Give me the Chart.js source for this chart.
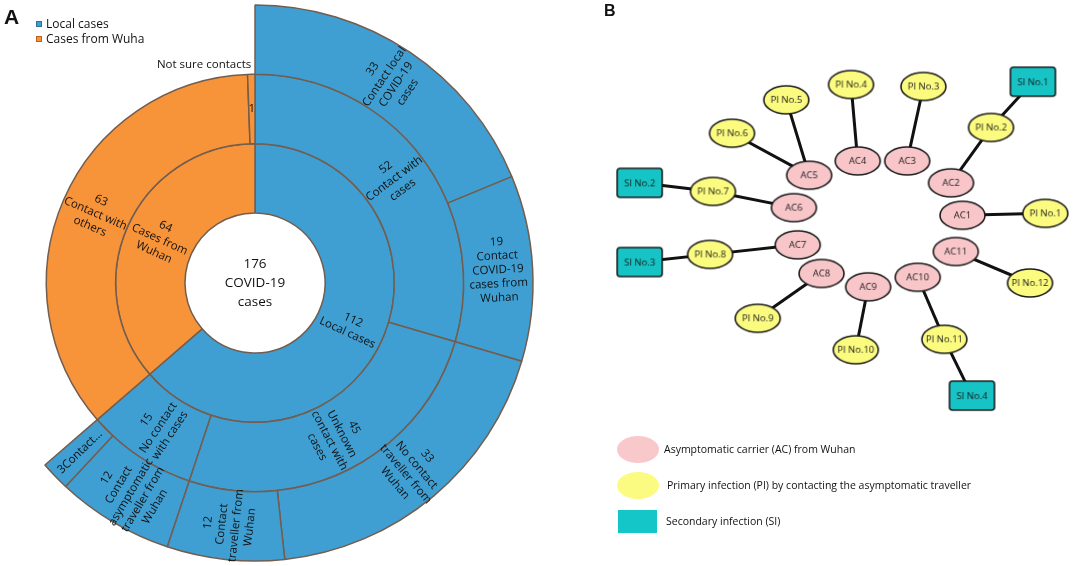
<!DOCTYPE html>
<html>
<head>
<meta charset="utf-8">
<title>COVID-19 cases sunburst and transmission network</title>
<script src="https://cdn.jsdelivr.net/npm/chart.js@4.4.1/dist/chart.umd.min.js"></script>
<style>
    body { margin: 0; width: 1084px; height: 566px; background: #fff; position: relative; overflow: hidden; font-family: "Open Sans", sans-serif; color: #111; }
    canvas { position: absolute; top: 0; }
    #sunburst { left: 0; }
    #network { left: 540px; }
    .tag { position: absolute; font-family: "Liberation Sans", Arial, sans-serif; font-weight: bold; line-height: 1; }
    .leg { position: absolute; font-size: 10.5px; line-height: 14px; transform: translateY(-50%); white-space: nowrap; }
    .leg-a { font-size: 12px; }
    .sq { position: absolute; width: 6px; height: 6px; box-sizing: border-box; }
    .sym { position: absolute; }
</style>
</head>
<body>
<canvas id="sunburst" width="540" height="566"></canvas>
<canvas id="network" width="544" height="566"></canvas>

<div class="tag" style="left:4px; top:6px; font-size:21px;">A</div>
<div class="tag" style="left:604px; top:3px; font-size:16px;">B</div>

<div class="sq" style="left:36px; top:21px; background:#3f9fd2; border:1px solid #2f6f9a;"></div>
<div class="leg leg-a" style="left:46px; top:24px;">Local cases</div>
<div class="sq" style="left:36px; top:36px; background:#f7943a; border:1px solid #b9631c;"></div>
<div class="leg leg-a" style="left:46px; top:39px;">Cases from Wuha</div>

<div class="sym" style="left:617px; top:436px; width:42px; height:27px; border-radius:50%; background:#f9c8cb;"></div>
<div class="leg" style="left:664px; top:449px;">Asymptomatic carrier (AC) from Wuhan</div>
<div class="sym" style="left:617px; top:472px; width:42px; height:27px; border-radius:50%; background:#fbfb82;"></div>
<div class="leg" style="left:667px; top:485px;">Primary infection (PI) by contacting the asymptomatic traveller</div>
<div class="sym" style="left:618px; top:510px; width:39px; height:23px; background:#14c6c8;"></div>
<div class="leg" style="left:666px; top:521px;">Secondary infection (SI)</div>

<script>
// ---- panel A: sunburst rings (inner -> outer) ----
const BLUE = "#3f9fd2";
const ORANGE = "#f7943a";
const EDGE = "#735d4f";

const innerValues = [112, 64];
const innerLabels = ["112\nLocal cases", "64\nCases from\nWuhan"];
const innerColors = [BLUE, ORANGE];

const middleValues = [52, 45, 15, 63, 1];
const middleLabels = ["52\nContact with\ncases", "45\nUnknown\ncontact with\ncases", "15\nNo contact\nwith cases", "63\nContact with\nothers", "1"];
const middleOutside = ["", "", "", "", "Not sure contacts"];
const middleColors = [BLUE, BLUE, BLUE, ORANGE, ORANGE];

// last slot is the Wuhan part, which has no third level
const outerValues = [33, 19, 33, 12, 12, 3, 64];
const outerLabels = [
    "33\nContact local\nCOVID-19\ncases",
    "19\nContact\nCOVID-19\ncases from\nWuhan",
    "33\nNo contact\ntraveller from\nWuhan",
    "12\nContact\ntraveller from\nWuhan",
    "12\nContact\nasymptomatic\ntraveller from\nWuhan",
    "3Contact\u2026",
    "",
];
const outerColors = [BLUE, BLUE, BLUE, BLUE, BLUE, BLUE, "rgba(0,0,0,0)"];
const outerBorders = [1.5, 1.5, 1.5, 1.5, 1.5, 1.5, 0];

const centerLines = ["176", "COVID-19", "cases"];

// ---- panel B: transmission network ----
const acNames = ["AC1", "AC2", "AC3", "AC4", "AC5", "AC6", "AC7", "AC8", "AC9", "AC10", "AC11"];
const acX = [970, 958, 912, 860, 809, 793, 797, 822, 871, 923, 963];
const acY = [212, 178, 155, 155, 170, 204, 243, 273, 287, 277, 250];

const piNames = ["PI No.1", "PI No.2", "PI No.3", "PI No.4", "PI No.5", "PI No.6", "PI No.7", "PI No.8", "PI No.9", "PI No.10", "PI No.11", "PI No.12"];
const piX = [1057, 1000, 929, 853, 785, 728, 708, 705, 755, 858, 951, 1041];
const piY = [210, 120, 77, 75, 91, 126, 187, 253, 320, 353, 342, 283];
const piSource = ["AC1", "AC2", "AC3", "AC4", "AC5", "AC5", "AC6", "AC7", "AC8", "AC9", "AC10", "AC11"];

const siNames = ["SI No.1", "SI No.2", "SI No.3", "SI No.4"];
const siX = [1044, 631, 631, 980];
const siY = [72, 178, 261, 401];
const siSource = ["PI No.2", "PI No.7", "PI No.8", "PI No.11"];

const NODE_FILL = { ac: "#f8c6c9", pi: "#fbfb80", si: "#16c4c6" };

// draws the rotated labels on each arc
const ringLabels = {
    id: "ringLabels",
    afterDatasetsDraw(chart) {
        const ctx = chart.ctx;
        ctx.save();
        ctx.fillStyle = "#111";
        ctx.textAlign = "center";
        ctx.textBaseline = "middle";
        chart.data.datasets.forEach((ds, di) => {
            chart.getDatasetMeta(di).data.forEach((arc, i) => {
                const p = arc.getProps(["x", "y", "startAngle", "endAngle", "innerRadius", "outerRadius"], true);
                const mid = (p.startAngle + p.endAngle) / 2;
                const text = ds.labelText[i];
                if (text) {
                    const r = (p.innerRadius + p.outerRadius) / 2;
                    let rot = Math.atan2(Math.sin(mid), Math.cos(mid));
                    if (rot > Math.PI / 2) rot -= Math.PI;
                    if (rot < -Math.PI / 2) rot += Math.PI;
                    if (p.endAngle - p.startAngle < 0.1) rot = 0;
                    const lines = text.split("\n");
                    const lh = 14;
                    ctx.save();
                    ctx.font = '11.5px "Open Sans"';
                    ctx.translate(p.x + Math.cos(mid) * r, p.y + Math.sin(mid) * r);
                    ctx.rotate(rot);
                    lines.forEach((line, li) => {
                        ctx.fillText(line, 0, (li - (lines.length - 1) / 2) * lh);
                    });
                    ctx.restore();
                }
                const outside = ds.outsideText && ds.outsideText[i];
                if (outside) {
                    ctx.save();
                    ctx.font = '11.5px "Open Sans"';
                    ctx.textAlign = "right";
                    ctx.fillText(outside, p.x + Math.cos(mid) * p.outerRadius, p.y + Math.sin(mid) * p.outerRadius - 10);
                    ctx.restore();
                }
            });
        });
        const c = chart.getDatasetMeta(0).data[0];
        ctx.font = '13.5px "Open Sans"';
        centerLines.forEach((line, li) => {
            ctx.fillText(line, c.x, c.y + (li - 1) * 19);
        });
        ctx.restore();
    },
};

new Chart(document.getElementById("sunburst"), {
    type: "doughnut",
    data: {
        datasets: [
            { data: outerValues, backgroundColor: outerColors, borderWidth: outerBorders, labelText: outerLabels },
            { data: middleValues, backgroundColor: middleColors, borderWidth: 1.5, labelText: middleLabels, outsideText: middleOutside },
            { data: innerValues, backgroundColor: innerColors, borderWidth: 1.5, labelText: innerLabels },
        ],
    },
    options: {
        responsive: false,
        animation: false,
        events: [],
        radius: 278,
        cutout: (70 / 278 * 100) + "%",
        layout: { padding: { right: 30 } },
        borderColor: EDGE,
        clip: false,
        elements: { arc: { borderColor: EDGE } },
        plugins: { legend: { display: false }, tooltip: { enabled: false } },
    },
    plugins: [ringLabels],
});

const makeNodeImage = (label, kind) => {
    const w = 45;
    const h = kind === "si" ? 29 : 28;
    const c = document.createElement("canvas");
    c.width = w + 4;
    c.height = h + 4;
    const g = c.getContext("2d");
    g.lineWidth = 1.6;
    g.strokeStyle = "#1c1c1c";
    g.fillStyle = NODE_FILL[kind];
    g.beginPath();
    if (kind === "si") {
        g.roundRect(2, 2, w, h, 3);
    } else {
        g.ellipse(c.width / 2, c.height / 2, w / 2, h / 2, 0, 0, Math.PI * 2);
    }
    g.fill();
    g.stroke();
    g.fillStyle = "#1a1a1a";
    g.font = '9.5px "Open Sans"';
    g.textAlign = "center";
    g.textBaseline = "middle";
    g.fillText(label, c.width / 2, c.height / 2 + 0.5);
    return c;
};

const nodePos = {};
acNames.forEach((n, i) => { nodePos[n] = { x: acX[i], y: acY[i] }; });
piNames.forEach((n, i) => { nodePos[n] = { x: piX[i], y: piY[i] }; });
siNames.forEach((n, i) => { nodePos[n] = { x: siX[i], y: siY[i] }; });

const links = [
    ...piNames.map((n, i) => [piSource[i], n]),
    ...siNames.map((n, i) => [siSource[i], n]),
];

const edgeSets = links.map(([a, b]) => ({
    data: [nodePos[a], nodePos[b]],
    showLine: true,
    borderColor: "#111",
    borderWidth: 3,
    pointRadius: 0,
    order: 1,
    clip: false,
}));

const nodeSet = (names, xs, ys, kind) => ({
    data: names.map((_, i) => ({ x: xs[i], y: ys[i] })),
    pointStyle: names.map((n) => makeNodeImage(n, kind)),
    pointRadius: 12,
    order: 0,
    clip: false,
});

new Chart(document.getElementById("network"), {
    type: "scatter",
    data: {
        datasets: [
            ...edgeSets,
            nodeSet(acNames, acX, acY, "ac"),
            nodeSet(piNames, piX, piY, "pi"),
            nodeSet(siNames, siX, siY, "si"),
        ],
    },
    options: {
        responsive: false,
        animation: false,
        events: [],
        layout: { padding: 0 },
        scales: {
            x: { type: "linear", min: 540, max: 1084, display: false },
            y: { type: "linear", min: 0, max: 566, reverse: true, display: false },
        },
        plugins: { legend: { display: false }, tooltip: { enabled: false } },
    },
});
</script>
</body>
</html>
